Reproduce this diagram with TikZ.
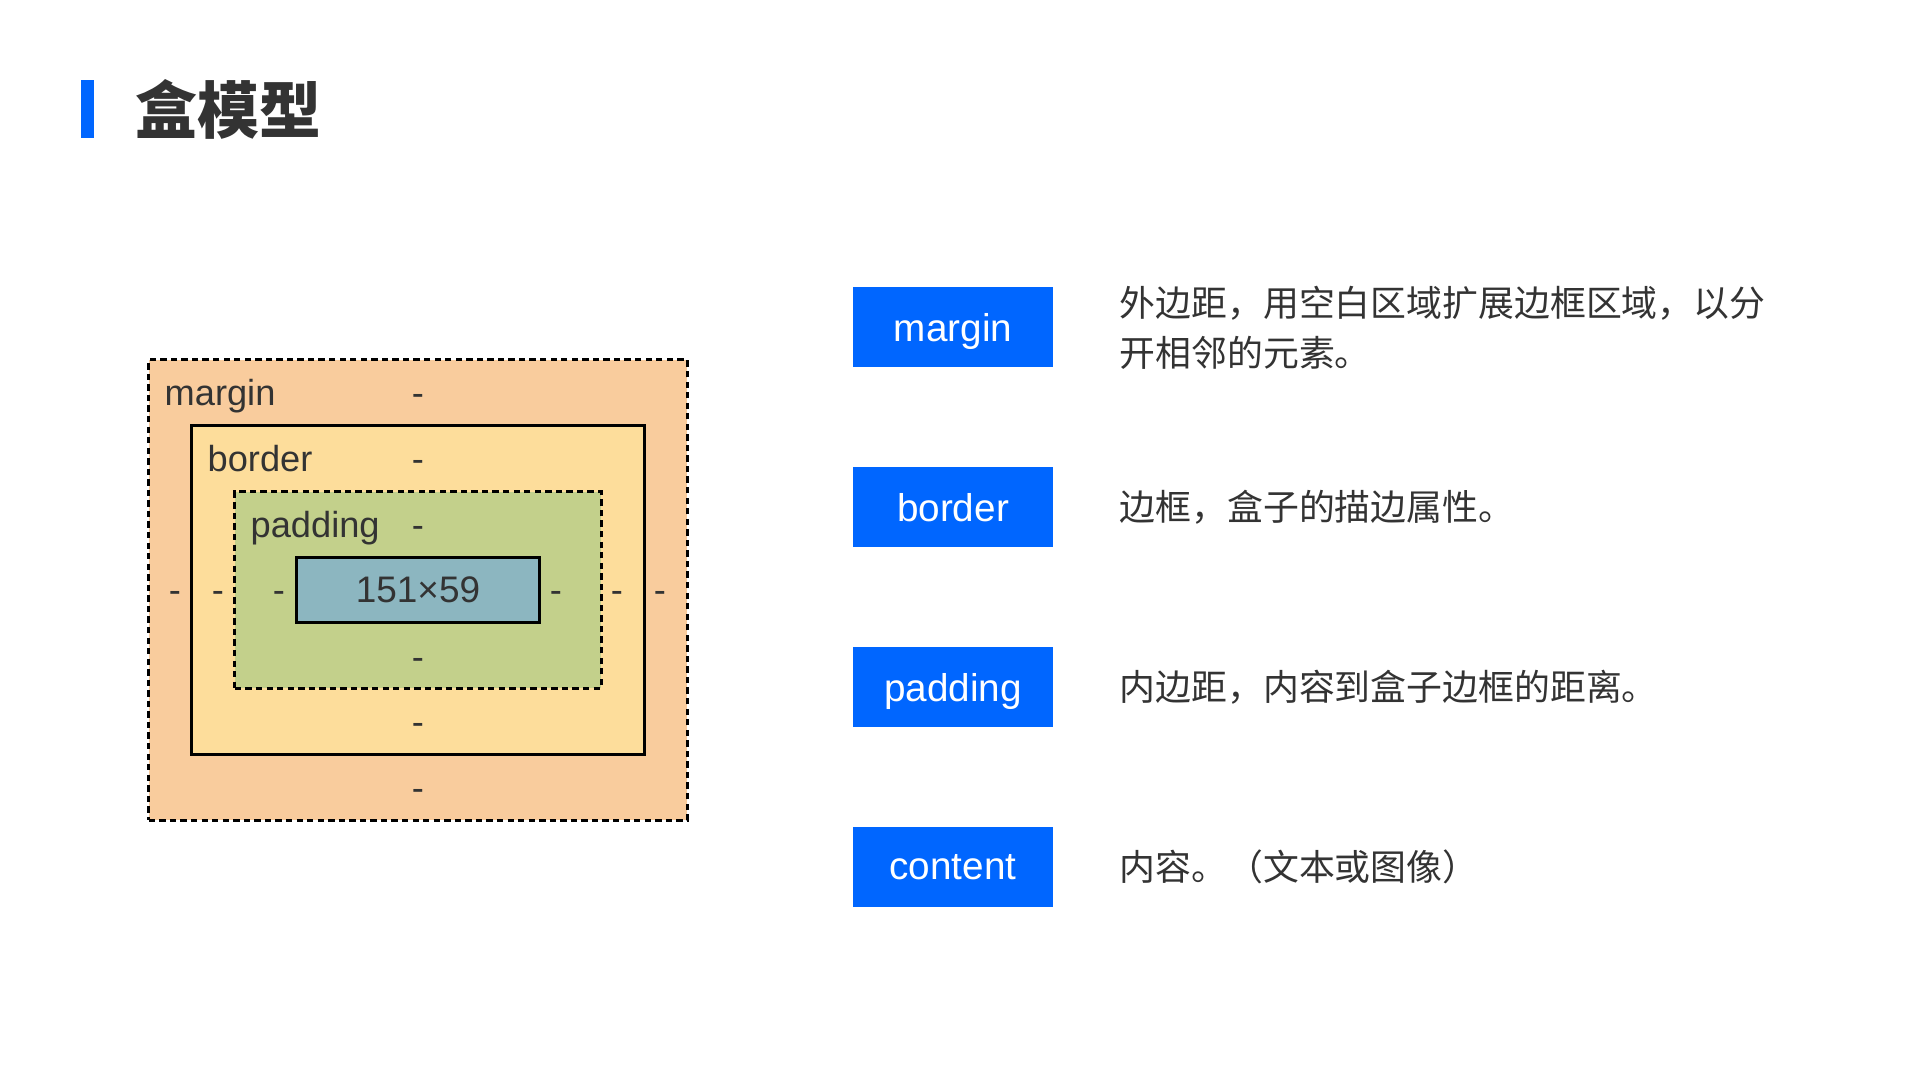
\documentclass[tikz,border=0pt]{standalone}
\usepackage{fontspec}
\setmainfont{Liberation Sans}
\newfontfamily\cjk{Noto Sans CJK SC}
\definecolor{tagblue}{HTML}{0066FF}
\definecolor{txtgrey}{HTML}{333333}
\definecolor{marginfill}{HTML}{F9CC9D}
\definecolor{borderfill}{HTML}{FDDD9B}
\definecolor{paddingfill}{HTML}{C3D08B}
\definecolor{contentfill}{HTML}{8CB6C0}

\begin{document}
\begin{tikzpicture}[x=0.01cm, y=-0.01cm,
        box/.style={draw, line width=0.85pt, inner sep=0pt},
        gap/.style={dash pattern=on 1.8pt off 1.2pt},
        tag/.style={fill=tagblue, text=white, minimum width=2cm, minimum height=0.79cm, inner sep=0pt, text depth=0pt, font=\fontsize{11}{13}\selectfont},
        desc/.style={anchor=west, align=left, inner sep=0pt, text=txtgrey, font=\cjk\fontsize{10.2}{14.2}\selectfont},
        lbl/.style={anchor=base west, inner sep=0pt, text=txtgrey, font=\fontsize{10.3}{12}\selectfont},
        dim/.style={anchor=base, inner sep=0pt, text=txtgrey, font=\fontsize{10.3}{12}\selectfont}]
    \useasboundingbox (0, 0) rectangle (1920, 1080);

    % title
    \node[fill=tagblue, minimum width=0.13cm, minimum height=0.58cm, inner sep=0pt] (titlebar) at (87.5, 109) {};
    \node[anchor=west, inner sep=0pt, text=txtgrey, font=\cjk\bfseries\fontsize{17.6}{20}\selectfont] (title) at (135, 109) {盒模型};

    % box model
    \node[box, gap, fill=marginfill, minimum width=5.38cm, minimum height=4.6cm] (MB) at (418, 590) {};
    \node[box, fill=borderfill, minimum width=4.52cm, minimum height=3.28cm] (BB) at (418, 590) {};
    \node[box, gap, fill=paddingfill, minimum width=3.66cm, minimum height=1.96cm] (PB) at (418, 590) {};
    \node[box, fill=contentfill, minimum width=2.43cm, minimum height=0.65cm, text=txtgrey, font=\fontsize{10.5}{12}\selectfont] (CB) at (418, 590) {151\texttimes59};

    \node[lbl] (ML) at (164, 406) {margin};
    \node[lbl] (BL) at (207, 472) {border};
    \node[lbl] (PL) at (250, 538) {padding};

    \node[dim] (MT) at (418, 406) {-};
    \node[dim] (BT) at (418, 472) {-};
    \node[dim] (PT) at (418, 538) {-};
    \node[dim] (PBm) at (418, 670) {-};
    \node[dim] (BBm) at (418, 735) {-};
    \node[dim] (MBm) at (418, 801) {-};
    \node[dim] (MLf) at (175, 603) {-};
    \node[dim] (BLf) at (218, 603) {-};
    \node[dim] (PLf) at (279, 603) {-};
    \node[dim] (PRt) at (556, 603) {-};
    \node[dim] (BRt) at (617, 603) {-};
    \node[dim] (MRt) at (660, 603) {-};

    % legend
    \node[tag] (TM) at (953, 327) {margin};
    \node[tag] (TB) at (953, 507) {border};
    \node[tag] (TP) at (953, 687) {padding};
    \node[tag] (TC) at (953, 867) {content};

    \node[desc] (DM) at (1119, 327.5) {外边距，用空白区域扩展边框区域，以分\\开相邻的元素。};
    \node[desc] (DB) at (1119, 507) {边框，盒子的描边属性。};
    \node[desc] (DP) at (1119, 687) {内边距，内容到盒子边框的距离。};
    \node[desc] (DC) at (1119, 867) {内容。（文本或图像）};
\end{tikzpicture}
\end{document}
